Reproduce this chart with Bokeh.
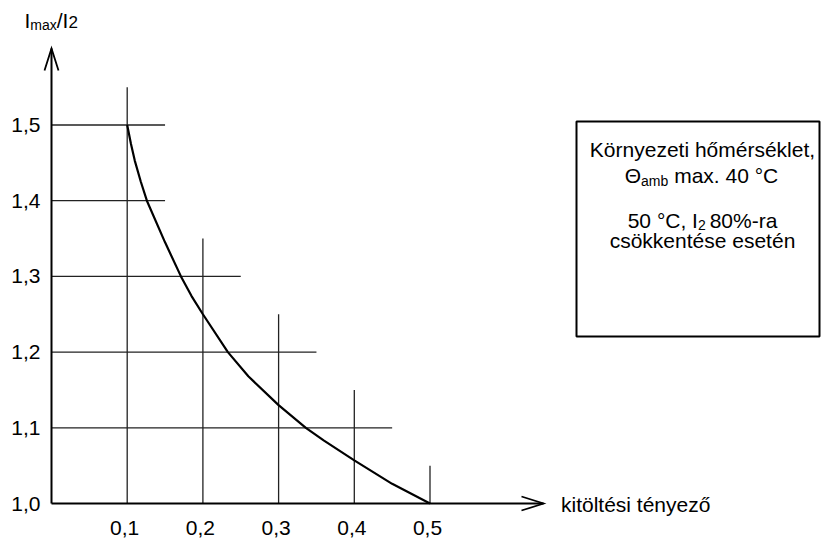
from bokeh.plotting import figure
from bokeh.models import Range1d
from bokeh.core.properties import value
from bokeh.embed import file_html
from bokeh.resources import INLINE

# ---------------- data ----------------
duty = [0.10, 0.105, 0.11, 0.118, 0.126, 0.15, 0.171, 0.185, 0.20, 0.233, 0.26, 0.30, 0.336, 0.36, 0.40, 0.45, 0.50]
ratio = [1.50, 1.475, 1.453, 1.425, 1.40, 1.345, 1.30, 1.274, 1.25, 1.20, 1.168, 1.13, 1.10, 1.083, 1.057, 1.026, 1.00]

x_ticks = [0.1, 0.2, 0.3, 0.4, 0.5]
x_tick_labels = ["0,1", "0,2", "0,3", "0,4", "0,5"]
y_ticks = [1.0, 1.1, 1.2, 1.3, 1.4, 1.5]
y_tick_labels = ["1,0", "1,1", "1,2", "1,3", "1,4", "1,5"]

# grid: horizontal lines at y (from x=0 to end), vertical lines at x (from y=1 to top)
h_grid_y = [1.1, 1.2, 1.3, 1.4, 1.5]
h_grid_end = [0.45, 0.35, 0.25, 0.15, 0.15]
v_grid_x = [0.1, 0.2, 0.3, 0.4, 0.5]
v_grid_top = [1.55, 1.35, 1.25, 1.15, 1.05]

x_title = "kitöltési tényező"
box_line1 = "Környezeti hőmérséklet,"
box_line4 = "csökkentése esetén"

# ---------------- layout helpers (canvas pixels -> data) ----------------
W, H = 825, 542
OX, OY, S = 51.0, 503.0, 757.0  # canvas px of origin (0, 1.0) and px per unit


def dx(px):
    return (px - OX) / S


def dy(py):
    return 1.0 + (OY - py) / S


FONT = value("Liberation Sans")
MAIN = 21
SUB = 14
BASE_FIX = 0.38  # em: renderer places alphabetic baseline this much lower


def bfix(size):
    return BASE_FIX * size


ADV = {' ': 278, ',': 278, '.': 278, '-': 333, '%': 889, '/': 278, '°': 400, 'C': 722,
       'I': 278, 'Θ': 778, 'a': 556, 'b': 556, 'm': 833, 'x': 500, 'r': 333}


def tw(s, size):
    return sum(ADV.get(ch, 556) for ch in s) / 1000.0 * size


p = figure(width=W, height=H, x_range=Range1d(dx(0), dx(W)), y_range=Range1d(dy(H), dy(0)),
           output_backend="svg", toolbar_location=None, x_axis_location=None, y_axis_location=None,
           min_border=0, outline_line_color=None, background_fill_color="white",
           border_fill_color="white")
p.grid.visible = False

GRID_C = "#222222"
# horizontal grid lines
p.segment(x0=[0.0] * len(h_grid_y), y0=h_grid_y, x1=h_grid_end, y1=h_grid_y,
          line_color=GRID_C, line_width=1.3)
# vertical grid lines
p.segment(x0=v_grid_x, y0=[1.0] * len(v_grid_x), x1=v_grid_x, y1=v_grid_top,
          line_color=GRID_C, line_width=1.3)

# axes with open arrow heads
y_tip = dy(48)
x_tip = dx(543)
p.segment(x0=[0.0, 0.0], y0=[1.0, 1.0], x1=[0.0, x_tip], y1=[y_tip, 1.0],
          line_color="black", line_width=2)
p.multi_line(xs=[[dx(OX - 7), 0.0, dx(OX + 7)], [x_tip - 22 / S, x_tip, x_tip - 22 / S]],
             ys=[[y_tip - 22 / S, y_tip, y_tip - 22 / S], [1.0 + 7 / S, 1.0, 1.0 - 7 / S]],
             line_color="black", line_width=1.8, line_join="miter")

# curve
p.line(duty, ratio, line_color="black", line_width=2.2)

# tick labels
p.text(x=[0.0] * len(y_ticks), y=y_ticks, text=y_tick_labels, text_font=FONT,
       text_font_size=f"{MAIN}px", text_align="right", text_baseline="alphabetic",
       x_offset=-11, y_offset=8 - bfix(MAIN), text_color="black")
p.text(x=x_ticks, y=[1.0] * len(x_ticks), text=x_tick_labels, text_font=FONT,
       text_font_size=f"{MAIN}px", text_align="center", text_baseline="alphabetic",
       x_offset=-2.5, y_offset=32 - bfix(MAIN), text_color="black")

# x axis title
p.text(x=[dx(560.5)], y=[1.0], text=[x_title], text_font=FONT, text_font_size=f"{MAIN}px",
       text_align="left", text_baseline="alphabetic", y_offset=9 - bfix(MAIN), text_color="black")


def pieces(parts, start_px, base_px):
    xpos = start_px
    for s, size, shift in parts:
        lead = len(s) - len(s.lstrip(" "))
        shown = s.strip(" ")
        if shown:
            p.text(x=[dx(xpos + tw(" " * lead, size))], y=[dy(base_px + shift - bfix(size))],
                   text=[shown], text_font=FONT, text_font_size=f"{size}px", text_align="left",
                   text_baseline="alphabetic", text_color="black")
        xpos += tw(s, size)


def centered(parts, center_px, base_px):
    total = sum(tw(s, size) for s, size, _ in parts)
    pieces(parts, center_px - total / 2.0, base_px)


# y axis title  I_max / I_2
pieces([("I", MAIN, 0), ("max", SUB, 1.5), ("/I", MAIN, 0), ("2", 17, 0)], 24, 28)

# legend box
p.quad(left=[dx(576)], right=[dx(819)], top=[dy(121)], bottom=[dy(336)],
       fill_color=None, line_color="black", line_width=2)
p.text(x=[dx(702)], y=[dy(157 - bfix(MAIN))], text=[box_line1], text_font=FONT,
       text_font_size=f"{MAIN}px", text_align="center", text_baseline="alphabetic",
       text_color="black")
centered([("Θ", MAIN, 0), ("amb", SUB, 3), (" max. 40 °C", MAIN, 0)], 701, 183)
centered([("50 °C, I", MAIN, 0), ("2 ", SUB, 2), ("80%-ra", MAIN, 0)], 702, 228)
p.text(x=[dx(702)], y=[dy(248 - bfix(MAIN))], text=[box_line4], text_font=FONT,
       text_font_size=f"{MAIN}px", text_align="center", text_baseline="alphabetic",
       text_color="black")

open("out.html", "w").write(file_html(p, INLINE))
